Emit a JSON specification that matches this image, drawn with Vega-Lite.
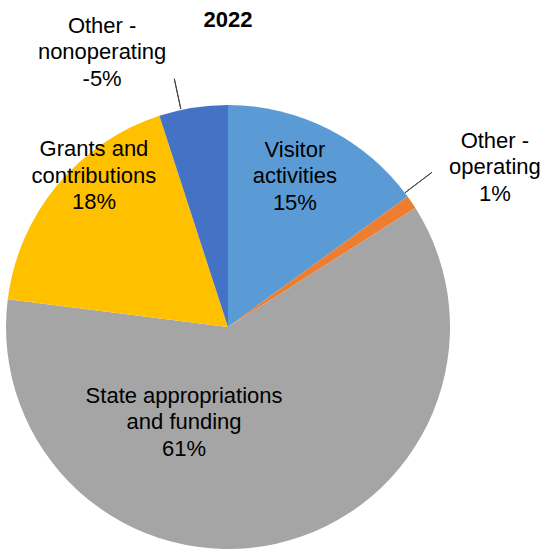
{
  "$schema": "https://vega.github.io/schema/vega-lite/v6.json",
  "width": 444,
  "height": 444,
  "autosize": {"type": "none"},
  "padding": {"left": 6, "top": 105, "right": 103, "bottom": 9},
  "background": "white",
  "config": {"view": {"stroke": null}},
  "title": {
    "text": "2022",
    "font": "Liberation Sans",
    "fontSize": 22,
    "fontWeight": "bold",
    "color": "#000000",
    "anchor": "middle",
    "baseline": "alphabetic",
    "offset": -34
  },
  "data": {
    "values": [
      {"cat": "Visitor activities", "value": 15, "rank": 1, "label": "Visitor\nactivities\n15%"},
      {"cat": "Other - operating", "value": 1, "rank": 2, "label": "Other -\noperating\n1%"},
      {"cat": "State appropriations and funding", "value": 61, "rank": 3, "label": "State appropriations\nand funding\n61%"},
      {"cat": "Grants and contributions", "value": 18, "rank": 4, "label": "Grants and\ncontributions\n18%"},
      {"cat": "Other - nonoperating", "value": 5, "rank": 5, "label": "Other -\nnonoperating\n-5%"}
    ]
  },
  "encoding": {
    "theta": {"field": "value", "type": "quantitative", "stack": true},
    "detail": {"field": "cat", "type": "nominal"},
    "order": {"field": "rank", "type": "quantitative"}
  },
  "layer": [
    {
      "mark": {"type": "arc", "outerRadius": 222},
      "encoding": {
        "color": {
          "field": "cat",
          "type": "nominal",
          "scale": {
            "domain": ["Visitor activities", "Other - operating", "State appropriations and funding", "Grants and contributions", "Other - nonoperating"],
            "range": ["#5B9BD5", "#ED7D31", "#A5A5A5", "#FFC000", "#4472C4"]
          },
          "legend": null
        }
      }
    },
    {
      "mark": {"type": "arc", "outerRadius": 256, "innerRadius": 222, "padAngle": 1, "thetaOffset": -0.052, "theta2Offset": -0.052, "fill": "transparent", "stroke": "#404040", "strokeWidth": 1},
      "encoding": {
        "strokeOpacity": {"condition": {"test": "datum.cat === 'Other - operating'", "value": 1}, "value": 0}
      }
    },
    {
      "mark": {"type": "arc", "outerRadius": 254, "innerRadius": 223, "padAngle": 1, "thetaOffset": -0.056, "theta2Offset": -0.056, "fill": "transparent", "stroke": "#404040", "strokeWidth": 1},
      "encoding": {
        "strokeOpacity": {"condition": {"test": "datum.cat === 'Other - nonoperating'", "value": 1}, "value": 0}
      }
    },
    {
      "mark": {"type": "text", "radius": {"expr": "datum.cat === 'Visitor activities' ? 189.3 : 0"}, "thetaOffset": -0.11, "font": "Liberation Sans", "fontSize": 22, "lineHeight": 26.5, "lineBreak": "\n", "align": "center", "baseline": "middle", "color": "#000000"},
      "encoding": {"text": {"condition": {"test": "datum.cat === 'Visitor activities'", "field": "label", "type": "nominal"}, "value": ""}}
    },
    {
      "mark": {"type": "text", "radius": {"expr": "datum.cat === 'Other - operating' ? 325.4 : 0"}, "thetaOffset": -0.0122, "font": "Liberation Sans", "fontSize": 22, "lineHeight": 26.5, "lineBreak": "\n", "align": "center", "baseline": "middle", "color": "#000000"},
      "encoding": {"text": {"condition": {"test": "datum.cat === 'Other - operating'", "field": "label", "type": "nominal"}, "value": ""}}
    },
    {
      "mark": {"type": "text", "radius": {"expr": "datum.cat === 'State appropriations and funding' ? 81.8 : 0"}, "thetaOffset": 0.787, "font": "Liberation Sans", "fontSize": 22, "lineHeight": 26.5, "lineBreak": "\n", "align": "center", "baseline": "middle", "color": "#000000"},
      "encoding": {"text": {"condition": {"test": "datum.cat === 'State appropriations and funding'", "field": "label", "type": "nominal"}, "value": ""}}
    },
    {
      "mark": {"type": "text", "radius": {"expr": "datum.cat === 'Grants and contributions' ? 222.8 : 0"}, "thetaOffset": 0.234, "font": "Liberation Sans", "fontSize": 22, "lineHeight": 26.5, "lineBreak": "\n", "align": "center", "baseline": "middle", "color": "#000000"},
      "encoding": {"text": {"condition": {"test": "datum.cat === 'Grants and contributions'", "field": "label", "type": "nominal"}, "value": ""}}
    },
    {
      "mark": {"type": "text", "radius": {"expr": "datum.cat === 'Other - nonoperating' ? 326.3 : 0"}, "thetaOffset": -0.239, "font": "Liberation Sans", "fontSize": 22, "lineHeight": 26.5, "lineBreak": "\n", "align": "center", "baseline": "middle", "color": "#000000"},
      "encoding": {"text": {"condition": {"test": "datum.cat === 'Other - nonoperating'", "field": "label", "type": "nominal"}, "value": ""}}
    }
  ]
}
